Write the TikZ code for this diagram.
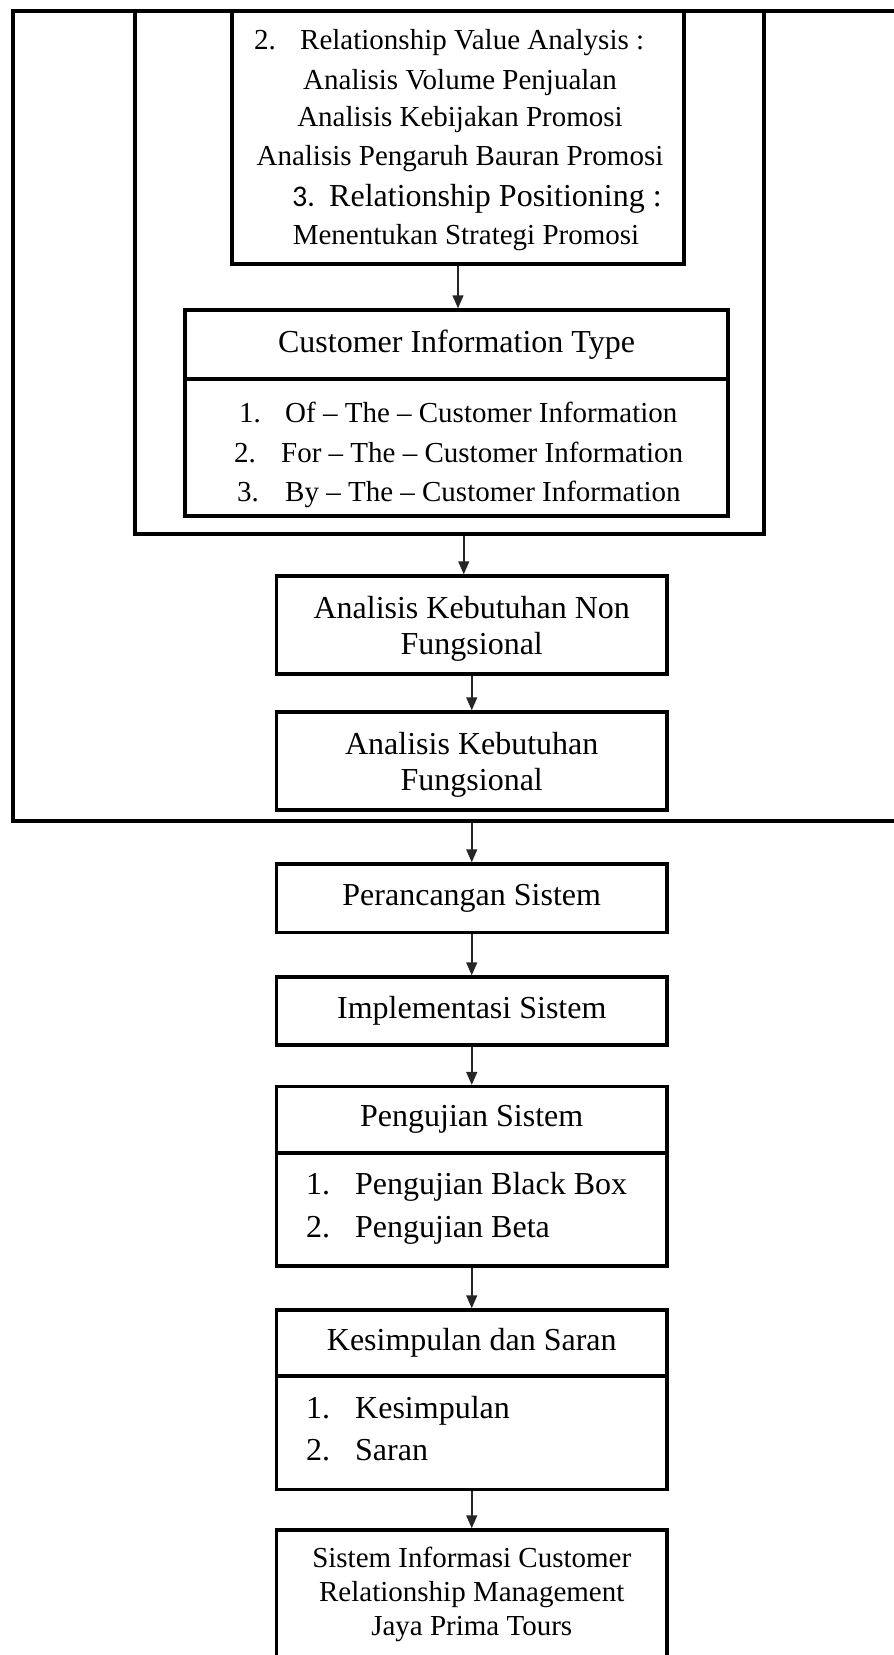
\documentclass[tikz,border=0pt]{standalone}
\usepackage{fontspec}
\setmainfont{Liberation Serif}
\newfontfamily\carl{Carlito}
\usetikzlibrary{arrows.meta}
\begin{document}
\begin{tikzpicture}[x=1pt,y=-1pt,
  box/.style={draw, line width=3.5pt, inner sep=0pt, align=center},
  big/.style={font=\fontsize{32}{36.5}\selectfont},
  sm/.style={font=\fontsize{29}{34}\selectfont},
  txt/.style={inner sep=0pt, text height=0.7em, text depth=0.22em, yshift=-8pt},
  arr/.style={-{Triangle[length=13pt,width=11pt]}, line width=1.5pt, draw=black!85}]
\useasboundingbox (0,0) rectangle (894,1655);

% frames
\node[box, minimum width=987, minimum height=810] (outer) at (506.5,416) {};
\node[box, minimum width=629, minimum height=523] (mb) at (449.5,272.5) {};
\node[box, minimum width=452, minimum height=253] (tb) at (458,137.5) {};

% top box text
\node[txt, sm, anchor=west] (t1n) at (254,39) {2.};
\node[txt, sm, anchor=west] (t1) at (300,39) {Relationship Value Analysis :};
\node[txt, sm] (t2) at (460,79) {Analisis Volume Penjualan};
\node[txt, sm] (t3) at (460,116) {Analisis Kebijakan Promosi};
\node[txt, sm] (t4) at (460,155) {Analisis Pengaruh Bauran Promosi};
\node[txt, anchor=west, font=\carl\fontsize{30}{34}\selectfont] (t5n) at (292,196) {3.};
\node[txt, big, anchor=west] (t5) at (329,196) {Relationship Positioning :};
\node[txt, sm] (t6) at (466,234) {Menentukan Strategi Promosi};

% customer information type
\node[box, big, minimum width=543, minimum height=69] (citT) at (456.5,344.5) {Customer Information Type};
\node[box, minimum width=543, minimum height=137] (citB) at (456.5,447.5) {};
\node[txt, sm, anchor=west] (c1n) at (239,412) {1.};
\node[txt, sm, anchor=west] (c1) at (285,412) {Of -- The -- Customer Information};
\node[txt, sm, anchor=west] (c2n) at (234,452) {2.};
\node[txt, sm, anchor=west] (c2) at (281,452) {For -- The -- Customer Information};
\node[txt, sm, anchor=west] (c3n) at (237,491) {3.};
\node[txt, sm, anchor=west] (c3) at (285,491) {By -- The -- Customer Information};

% analysis boxes
\node[box, big, minimum width=390.5, minimum height=98] (aknf) at (471.75,625) {\rule{0pt}{30pt}Analisis Kebutuhan Non\\Fungsional};
\node[box, big, minimum width=390.5, minimum height=98] (akf) at (471.75,761) {\rule{0pt}{30pt}Analisis Kebutuhan\\Fungsional};

% lower chain
\node[box, big, minimum width=390.5, minimum height=68.5] (per) at (471.75,898.25) {Perancangan Sistem};
\node[box, big, minimum width=390.5, minimum height=68] (imp) at (471.75,1011) {Implementasi Sistem};

\node[box, big, minimum width=390.5, minimum height=66.4] (pengT) at (471.75,1119.8) {Pengujian Sistem};
\node[box, minimum width=390.5, minimum height=113] (pengB) at (471.75,1209.5) {};
\node[txt, big, anchor=west] (p1n) at (306,1184.5) {1.};
\node[txt, big, anchor=west] (p1) at (355,1184.5) {Pengujian Black Box};
\node[txt, big, anchor=west] (p2n) at (306,1227) {2.};
\node[txt, big, anchor=west] (p2) at (355,1227) {Pengujian Beta};

\node[box, big, minimum width=390.5, minimum height=66] (kesT) at (471.75,1343) {Kesimpulan dan Saran};
\node[box, minimum width=390.5, minimum height=113.6] (kesB) at (471.75,1432.8) {};
\node[txt, big, anchor=west] (k1n) at (306,1408) {1.};
\node[txt, big, anchor=west] (k1) at (355,1408) {Kesimpulan};
\node[txt, big, anchor=west] (k2n) at (306,1450) {2.};
\node[txt, big, anchor=west] (k2) at (355,1450) {Saran};

\node[box, minimum width=390.5, minimum height=170] (fin) at (471.75,1615) {};
\node[inner sep=0pt, align=center, font=\fontsize{29}{34}\selectfont] (finT) at (471.75,1594)
  {Sistem Informasi Customer\\Relationship Management\\Jaya Prima Tours};

% connectors
\draw[arr] (tb.south) -- (tb.south |- citT.north);
\draw[arr] ([xshift=-8pt]mb.south -| aknf.north) -- ([xshift=-8pt]aknf.north);
\draw[arr] (aknf.south) -- (akf.north);
\draw[arr] (outer.south -| akf.south) -- (per.north);
\draw[arr] (per.south) -- (imp.north);
\draw[arr] (imp.south) -- (pengT.north);
\draw[arr] (pengB.south) -- (kesT.north);
\draw[arr] (kesB.south) -- (fin.north);
\end{tikzpicture}
\end{document}
